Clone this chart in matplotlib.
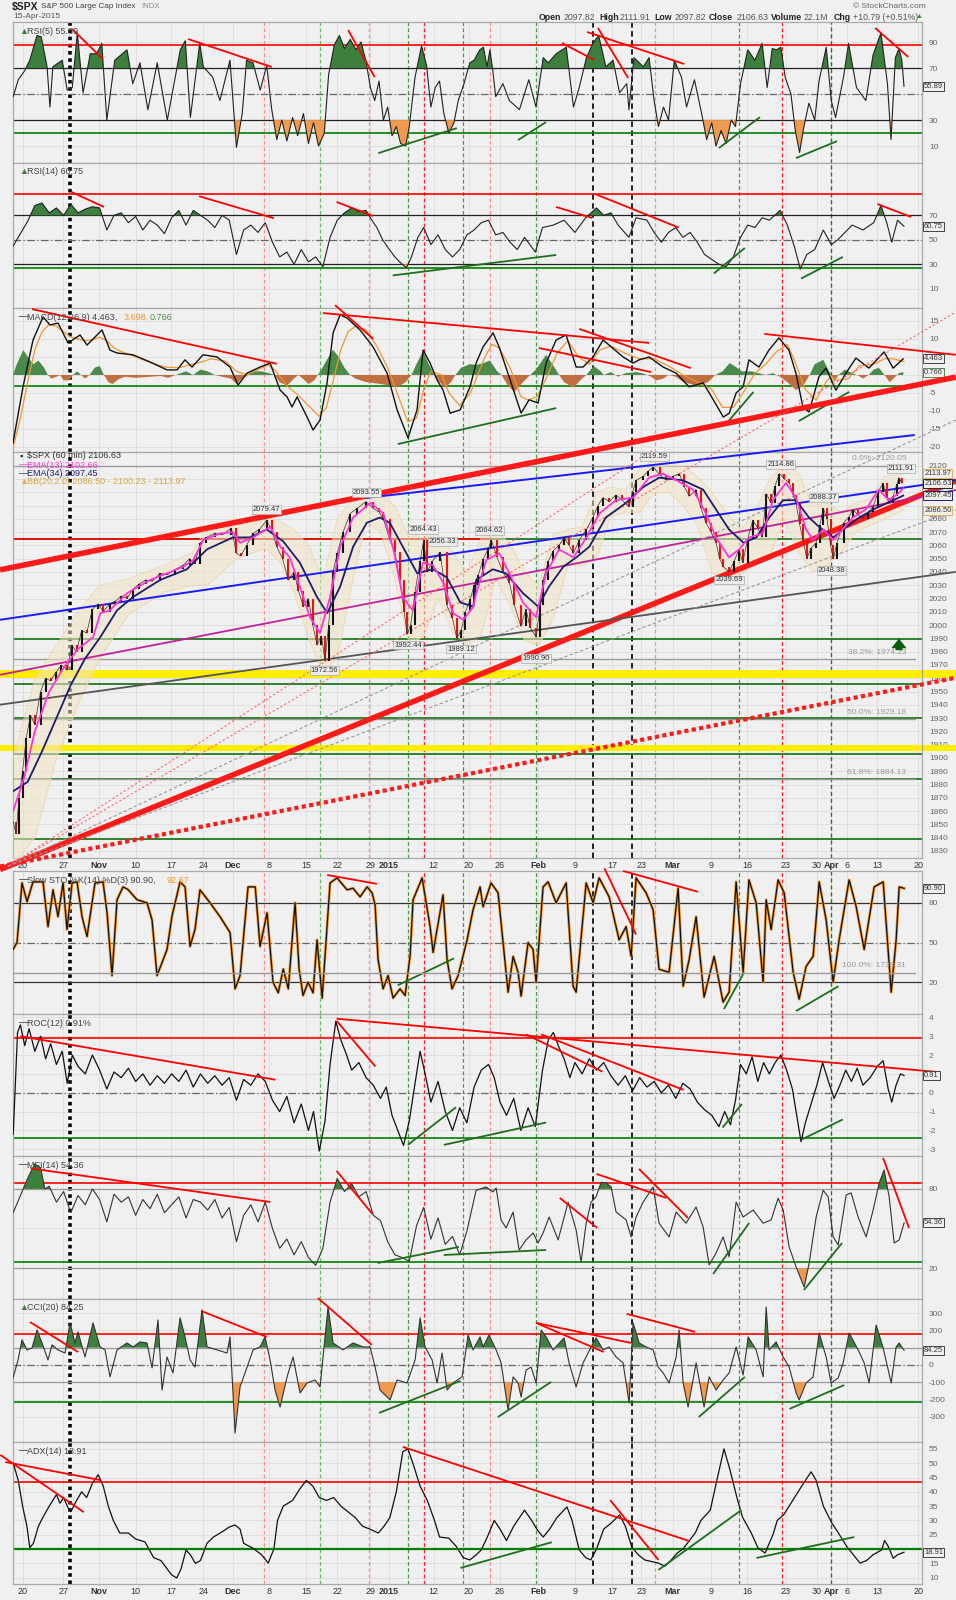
import numpy as np
import matplotlib
matplotlib.use("Agg")
import matplotlib.pyplot as plt

plt.rcParams['font.family'] = ['Liberation Sans', 'DejaVu Sans']

# ---------------------------------------------------------------
# x axis: trading-day position on the 60-min chart (0 ~ 20 Oct 2014)
tick_pos = [0.3, 5.96, 10.9, 16.0, 20.9, 25.4, 29.5, 34.5, 39.7, 44.0, 48.6, 51.2,
            57.4, 62.3, 66.6, 71.9, 77.0, 82.2, 86.2, 90.6, 95.9, 100.9, 106.3,
            110.6, 112.6, 114.8, 119.0, 124.7]
tick_lbl = ['20', '27', 'Nov', '10', '17', '24', 'Dec', '8', '15', '22', '29', '2015',
            '12', '20', '26', 'Feb', '9', '17', '23', 'Mar', '9', '16', '23', '30',
            'Apr', '6', '13', '20']
bold_lbl = {'Nov', 'Dec', '2015', 'Feb', 'Mar', 'Apr'}

# vertical marker lines drawn by the chartist
vline_pos = [6.9, 33.8, 41.6, 48.4, 53.8, 56.1, 61.5, 65.2, 71.6, 79.5, 84.9, 88.1,
             99.8, 105.8, 112.6]
vline_kind = ['dot', 'pink', 'lgreen', 'pink', 'green', 'red', 'green', 'pink',
              'green', 'black', 'black', 'pink', 'green', 'red', 'dgreen']

# ---------------------------------------------------------------
# price ($SPX 60 min)
price = [(-1.0, 1852), (-0.6, 1843), (-0.2, 1870), (0.3, 1890), (0.8, 1915), (1.4, 1932),
         (2.0, 1925), (2.8, 1950), (3.5, 1960), (4.2, 1958), (5.0, 1965), (5.7, 1970),
         (6.5, 1966), (7.1, 1985), (7.8, 1980), (8.5, 1996), (9.2, 1994), (10.0, 2012),
         (10.8, 2016), (11.5, 2010), (12.4, 2016), (13.2, 2018), (14.0, 2022), (14.8, 2020),
         (15.6, 2027), (16.5, 2031), (17.4, 2034), (18.3, 2033), (19.4, 2039), (20.4, 2038),
         (21.5, 2042), (22.6, 2045), (23.5, 2050), (24.2, 2046), (25.0, 2062), (25.8, 2066),
         (27.0, 2069), (28.0, 2068), (29.3, 2073), (30.0, 2054), (30.6, 2052), (31.4, 2060),
         (32.3, 2069), (33.2, 2072), (34.2, 2079), (35.0, 2070), (35.6, 2059), (36.4, 2050),
         (37.2, 2034), (38.0, 2040), (38.6, 2026), (39.3, 2014), (40.0, 2020), (40.6, 2000),
         (41.2, 1985), (41.8, 1992), (42.3, 1973), (42.8, 2000), (43.4, 2040), (44.0, 2054),
         (44.8, 2070), (45.8, 2084), (46.8, 2088), (48.0, 2093), (49.0, 2088), (49.8, 2085),
         (50.4, 2080), (51.3, 2064), (52.0, 2055), (52.7, 2034), (53.3, 2010), (53.7, 1993),
         (54.2, 2000), (54.8, 2025), (55.5, 2048), (56.0, 2064), (56.5, 2040), (57.2, 2048),
         (58.3, 2055), (59.2, 2015), (60.0, 2005), (60.6, 1990), (61.2, 1996), (61.8, 2010),
         (62.5, 2020), (63.0, 2030), (63.6, 2038), (64.3, 2050), (65.0, 2058), (65.4, 2064),
         (66.2, 2051), (67.0, 2040), (67.9, 2032), (68.6, 2015), (69.5, 1999), (70.2, 2012),
         (70.8, 1998), (71.6, 1991), (72.2, 2015), (72.6, 2034), (73.3, 2048), (74.0, 2056),
         (74.8, 2060), (75.5, 2066), (76.2, 2060), (76.8, 2054), (77.6, 2064), (78.6, 2072),
         (79.5, 2081), (80.2, 2090), (80.9, 2096), (81.8, 2093), (82.7, 2098), (83.6, 2094),
         (84.5, 2089), (85.0, 2100), (85.5, 2109), (86.5, 2112), (87.2, 2116), (87.9, 2119),
         (88.8, 2113), (89.7, 2109), (90.6, 2112), (91.5, 2114), (92.2, 2104), (92.9, 2097),
         (93.8, 2102), (94.5, 2088), (95.2, 2077), (95.9, 2070), (96.6, 2062), (97.1, 2050),
         (97.6, 2044), (98.4, 2040), (99.1, 2048), (99.8, 2057), (100.3, 2047), (101.0, 2065),
         (101.7, 2079), (102.4, 2073), (103.0, 2066), (103.6, 2099), (104.2, 2092), (104.8, 2105),
         (105.4, 2114), (106.1, 2110), (106.8, 2107), (107.3, 2098), (107.7, 2092), (108.2, 2076),
         (108.7, 2064), (109.2, 2050), (109.8, 2058), (110.5, 2062), (111.0, 2075), (111.5, 2088),
         (112.0, 2080), (112.5, 2060), (112.9, 2050), (113.4, 2062), (114.3, 2077), (115.0, 2081),
         (115.6, 2087), (116.3, 2083), (117.0, 2080), (117.7, 2085), (118.4, 2089), (119.1, 2100),
         (119.8, 2107), (120.3, 2096), (120.6, 2092), (121.2, 2097), (121.7, 2106), (122.0, 2111),
         (122.4, 2107)]

ema13 = [(-1, 1860), (0.5, 1885), (2, 1920), (4, 1950), (6, 1968), (8, 1982), (10.1, 1991),
         (11.1, 2009), (12.4, 2011), (14.8, 2024), (18, 2034), (20.4, 2039), (22.6, 2044),
         (24, 2049), (25.4, 2064), (27.7, 2069), (29.5, 2070), (30.5, 2062), (32.3, 2066),
         (34.7, 2074), (36.1, 2059), (37.4, 2051), (38.8, 2029), (40.2, 2006), (41.6, 1994),
         (43, 2021), (44.4, 2059), (46.2, 2081), (48.6, 2092), (50.4, 2084), (51.8, 2057),
         (53.1, 2021), (54.5, 2011), (55.9, 2047), (57.3, 2045), (58.7, 2032), (60.1, 2009),
         (61.5, 2004), (62.9, 2014), (63.3, 2024), (64.7, 2049), (66.5, 2054), (67.9, 2039),
         (69.8, 2017), (71.6, 2006), (73, 2039), (74.8, 2057), (76.8, 2051), (78.6, 2066),
         (80.4, 2084), (82.7, 2094), (85.1, 2096), (87.3, 2111), (89.2, 2114), (91.1, 2109),
         (93.4, 2102), (95.2, 2084), (96.6, 2066), (98.4, 2051), (99.8, 2057), (101.2, 2066),
         (103.1, 2069), (104.5, 2094), (106.3, 2107), (107.7, 2096), (109.1, 2072), (110.1, 2064),
         (111.5, 2072), (112.9, 2064), (113.7, 2069), (115.6, 2081), (117.4, 2087), (119.2, 2102),
         (120.6, 2094), (121.9, 2099), (122.6, 2103)]

ema34 = [(-1, 1875), (1, 1882), (3, 1905), (5, 1930), (7, 1955), (9, 1975), (11.1, 1991),
         (13.4, 2011), (15.6, 2021), (19.4, 2034), (23.1, 2042), (25.9, 2057), (29.5, 2066),
         (31.9, 2066), (34.2, 2072), (36.5, 2063), (38.8, 2047), (41.2, 2021), (42.6, 2009),
         (44.4, 2029), (46.2, 2059), (48.1, 2077), (49.9, 2081), (51.3, 2077), (53.1, 2059),
         (55.1, 2039), (57.3, 2042), (59.2, 2036), (61.1, 2017), (62.9, 2014), (63.3, 2034),
         (65.6, 2042), (67.4, 2039), (69.8, 2024), (71.9, 2014), (73.4, 2029), (75.4, 2044),
         (77.2, 2051), (79, 2059), (81.3, 2081), (84.1, 2092), (86.5, 2104), (88.7, 2111),
         (92, 2109), (94.8, 2102), (96.6, 2087), (98.4, 2072), (100.4, 2062), (102.2, 2066),
         (104.0, 2081), (105.9, 2094), (107.7, 2094), (109.5, 2081), (110.9, 2074), (112.9, 2066),
         (114.7, 2074), (116.5, 2081), (118.8, 2088), (121.2, 2094), (122.6, 2097.5)]

bb_t = [-1, 2, 5, 8, 11, 15, 20, 24, 26, 30, 34, 36, 38, 40, 42, 44, 46, 48, 50, 52, 54, 56,
        58, 60, 62, 64, 66, 68, 70, 72, 74, 76, 78, 80, 82, 84, 86, 88, 90, 92, 94, 96, 98,
        100, 102, 104, 106, 108, 110, 112, 114, 116, 118, 120, 122.6]
bb_upper = [1900, 1960, 1985, 2010, 2030, 2035, 2045, 2055, 2075, 2078, 2082, 2078, 2072, 2060,
            2035, 2080, 2095, 2100, 2098, 2090, 2065, 2070, 2068, 2055, 2040, 2066, 2070, 2062,
            2040, 2030, 2068, 2072, 2074, 2100, 2104, 2102, 2118, 2124, 2120, 2120, 2112, 2100,
            2085, 2072, 2085, 2110, 2120, 2115, 2090, 2092, 2085, 2092, 2095, 2112, 2114]
bb_lower = [1820, 1840, 1900, 1940, 1975, 2008, 2025, 2030, 2030, 2050, 2058, 2048, 2025, 1990,
            1965, 1975, 2030, 2078, 2070, 2035, 1985, 1992, 2020, 1995, 1985, 1992, 2035, 2015,
            1988, 1985, 2005, 2045, 2045, 2050, 2082, 2085, 2085, 2100, 2100, 2090, 2075, 2040,
            2030, 2038, 2045, 2050, 2080, 2055, 2040, 2045, 2055, 2070, 2075, 2080, 2086.5]

# ---------------------------------------------------------------
rsi5 = [(-1, 48), (-0.3, 61), (0.6, 68), (1.3, 76), (2.3, 95), (2.9, 94), (3.7, 71), (4.1, 40),
        (4.5, 71), (5.8, 76), (6.5, 53), (7.2, 55), (7.9, 97), (8.7, 51), (9.7, 81), (10.6, 81),
        (11.3, 89), (12.0, 30), (13.1, 76), (14.8, 84), (15.6, 58), (16.6, 74), (17.7, 38),
        (19.0, 74), (20.4, 30), (22.2, 84), (22.9, 91), (23.6, 32), (24.9, 89), (25.4, 71),
        (26.7, 63), (27.7, 45), (29.1, 76), (30.0, 9), (30.8, 35), (31.4, 76), (32.3, 74),
        (33.3, 53), (34.2, 72), (34.9, 38), (35.6, 15), (36.3, 30), (37.0, 14), (37.8, 32),
        (38.5, 18), (39.3, 35), (40.0, 12), (40.7, 28), (41.4, 10), (42.2, 20), (42.8, 65),
        (43.6, 88), (44.3, 95), (45.0, 85), (45.8, 92), (46.6, 84), (47.3, 90), (48.0, 75),
        (48.6, 55), (49.2, 45), (49.8, 60), (50.4, 30), (51.0, 40), (51.6, 18), (52.2, 25),
        (52.8, 12), (53.5, 10), (54.0, 25), (54.8, 63), (55.7, 87), (56.4, 72), (57.0, 40),
        (57.6, 55), (58.2, 60), (58.8, 35), (59.5, 20), (60.2, 28), (60.8, 45), (61.6, 58),
        (62.4, 74), (63.0, 76), (63.8, 84), (64.3, 86), (64.8, 71), (65.2, 84), (65.6, 68),
        (66.0, 48), (67.0, 58), (67.9, 45), (69.3, 38), (70.6, 61), (71.6, 40), (72.6, 78),
        (73.3, 74), (74.4, 81), (75.8, 86), (76.8, 40), (77.6, 55), (78.6, 78), (79.5, 89),
        (80.3, 95), (81.3, 71), (82.3, 76), (83.2, 51), (84.2, 58), (84.5, 38), (85.2, 78),
        (86.5, 71), (87.3, 78), (88.0, 45), (88.6, 25), (89.3, 40), (90.0, 30), (90.8, 76),
        (91.8, 63), (92.5, 40), (93.6, 61), (94.6, 35), (95.3, 15), (96.0, 28), (96.6, 10),
        (97.3, 22), (98.0, 12), (98.7, 30), (99.3, 25), (100.0, 58), (101.0, 84), (102.0, 76),
        (103.0, 89), (103.7, 55), (104.4, 85), (105.0, 84), (105.6, 86), (106.2, 63), (107.0, 50),
        (107.6, 22), (108.2, 5), (108.8, 25), (109.5, 43), (110.3, 30), (110.9, 60), (111.9, 86),
        (112.6, 45), (113.2, 32), (114.3, 63), (115.0, 89), (116.1, 55), (117.4, 45), (118.4, 80),
        (119.5, 97), (120.4, 58), (120.9, 15), (121.5, 78), (122.0, 85), (122.4, 76), (122.7, 56)]

rsi14 = [(-1, 45), (0, 55), (1, 65), (2, 78), (3, 80), (4, 72), (5, 76), (6, 70), (7, 79), (8, 72),
         (9, 75), (10, 77), (11, 76), (12, 58), (13, 70), (14, 72), (15, 64), (16, 69), (17, 58),
         (18, 66), (19, 62), (20, 55), (21, 68), (22, 74), (23, 62), (24, 74), (25, 70), (26, 66),
         (27, 60), (28, 70), (29, 66), (30, 38), (31, 58), (32, 62), (33, 56), (34, 64), (35, 48),
         (36, 36), (37, 40), (38, 30), (39, 42), (40, 32), (41, 36), (42, 28), (43, 52), (44, 66),
         (45, 72), (46, 76), (47, 73), (48, 74), (48.8, 66), (49.5, 60), (50.3, 50), (51, 44),
         (52, 36), (53, 30), (53.6, 27), (54.3, 36), (55.2, 52), (56, 60), (57, 46), (58, 54),
         (59, 42), (60, 36), (61, 42), (62, 54), (63, 58), (64, 64), (65, 66), (66, 54), (67, 56),
         (68, 48), (69, 42), (70, 52), (71.5, 40), (72.5, 60), (74, 62), (75.5, 66), (77, 56),
         (78.5, 68), (80, 76), (81, 70), (82, 72), (83, 62), (84.5, 52), (85.5, 68), (87, 66),
         (88, 56), (89, 48), (90, 56), (91, 60), (92, 52), (93, 56), (94, 48), (95, 38), (96, 34),
         (97, 30), (98, 28), (99, 36), (100, 52), (101, 62), (102, 60), (103, 68), (104, 66),
         (105.5, 74), (106.5, 62), (107.5, 44), (108.3, 26), (109.2, 38), (110.3, 42), (111.5, 58),
         (112.6, 46), (113.5, 50), (114.5, 56), (115.5, 62), (117, 58), (118.5, 64), (119.5, 78),
         (120.3, 64), (121, 48), (121.8, 66), (122.7, 61)]

macd = [(-1.03, -18.9), (0.36, -3.3), (1.75, 9.7), (3.14, 16.1), (4.11, 13.9), (5.22, 14.4),
        (6.61, 8.9), (8.28, 11.1), (9.25, 8.3), (11.33, 12.5), (12.44, 6.9), (13.42, 6.1),
        (15.64, 5.6), (18.0, 3.6), (20.36, 1.4), (21.75, 1.4), (22.86, 4.2), (23.83, 2.2),
        (25.36, 5.6), (27.31, 5.0), (29.11, 2.2), (30.22, -2.8), (31.47, 0.5), (33.28, 2.2),
        (34.67, 3.3), (36.06, -4.2), (37.03, -6.1), (37.72, -8.9), (38.42, -6.1), (39.81, -11.7),
        (40.64, -15.3), (41.61, -12.5), (42.58, -2.2), (43.42, 11.7), (44.39, 16.7), (45.36, 15.8),
        (47.17, 12.5), (48.97, 7.8), (50.92, 0.5), (52.31, -9.7), (53.83, -17.5), (55.08, -9.7),
        (55.92, 6.9), (56.89, 3.3), (57.86, -1.4), (58.69, -4.2), (59.67, -10.6), (61.06, -9.7),
        (62.44, -3.3), (63.28, 3.3), (64.25, 7.8), (65.64, 11.7), (66.47, 7.8), (67.86, -0.5),
        (69.53, -10.6), (70.64, -6.9), (71.89, -7.8), (73.0, 3.3), (74.39, 9.7), (75.78, 11.1),
        (77.17, 2.2), (78.14, 2.2), (79.5, 5.0), (80.92, 9.7), (81.75, 8.3), (83.69, 5.0),
        (85.08, 3.3), (85.92, 4.2), (87.31, 5.0), (89.25, 2.2), (91.06, 0.5), (92.86, -3.3),
        (94.81, -2.2), (96.22, -6.9), (97.61, -11.7), (98.44, -10.6), (99.39, -5.0), (100.36, -3.3),
        (101.17, 4.2), (102.56, 2.2), (103.94, 6.9), (105.33, 10.3), (106.72, 6.9), (107.69, 0.5),
        (108.67, -8.9), (109.5, -10.3), (110.89, -0.5), (111.86, 1.9), (113.25, -4.2), (114.64, 0.5),
        (116.03, 4.7), (117.83, 1.9), (119.94, 6.4), (121.19, 1.9), (122.58, 4.46)]

macd_signal = [(-1, -20), (0, -12), (1, -2), (2, 7), (3, 12), (4, 14), (5, 13.5), (6, 12),
               (7, 10.5), (8, 10), (9, 9.5), (10, 9.8), (11, 10.5), (12, 9.5), (13, 7.5),
               (14, 6.5), (16, 5), (18, 3.5), (20, 2.2), (22, 2), (23.5, 2.8), (25, 3.5),
               (26.5, 4.5), (28.5, 3.8), (30, 1), (31.5, 0), (33, 1.5), (34.5, 2.8), (35.5, 1),
               (37, -3), (38.5, -5.5), (40, -8.5), (41.5, -11.5), (42.5, -9), (43.5, -1), (44.5, 7),
               (45.5, 12), (46.5, 13.5), (48, 12.5), (49.5, 8), (51, 2), (52.5, -6), (53.8, -13),
               (55, -12), (56, -4), (57, 1), (58.5, 0), (59.5, -5), (61, -8.5), (62.5, -5),
               (63.5, 0), (64.5, 5), (65.5, 8.5), (66.5, 7.5), (68, 2), (69.5, -6), (70.5, -7),
               (71.8, -6), (73, -1), (74.5, 6), (76, 9.5), (77.5, 5), (79, 3), (80.5, 7), (82, 8),
               (84, 6), (86, 4.5), (88, 4.5), (90, 2.5), (92, 0), (94, -2), (96, -4), (97.5, -9),
               (99, -9), (100.5, -4.5), (102, 0.5), (103.5, 3), (105, 6.5), (106.5, 8.5),
               (107.5, 4), (109, -4), (110.5, -7), (111.5, -3), (112.5, -0.5), (113.5, -1.5),
               (115, -1), (116.5, 2.5), (118.5, 3), (120, 4.5), (121.2, 4.5), (122.7, 3.7)]

macd_hist = [(-1.03, 0), (-0.5, 3), (0.4, 6.9), (1.2, 4.5), (1.8, 3), (2.5, 4), (3.3, 2), (3.8, 0),
             (4.3, -1), (5.0, -0.5), (5.5, 0), (6.0, -1.5), (6.8, -1.5), (7.3, 0), (7.9, 1),
             (8.4, 0), (9.0, -1), (9.6, 0), (10.3, 2), (11.0, 2.5), (11.6, 0), (12.2, -2),
             (12.8, -2.5), (13.6, -1.2), (14.5, -0.5), (16, -0.8), (18, -0.5), (19.5, -0.3),
             (20.5, -0.8), (22, 0.3), (23, 1), (24, 0), (25, 1.5), (26, 1), (27, 0), (28, -0.5),
             (29.2, -1), (30, -2.5), (30.8, -1), (31.5, 0), (32.2, 1), (33.5, 1), (34.5, 0.5),
             (35.3, 0), (36, -2), (37, -3), (38, -1), (38.6, 0), (39.2, -1), (40, -2.5),
             (40.8, -1.5), (41.3, 0), (41.8, 1.5), (42.5, 4), (43.4, 7), (44.2, 5), (45, 2),
             (45.8, 0), (46.5, -1), (48, -2), (50, -2.5), (51.5, -3), (52.5, -3.2), (53.5, -2),
             (54.3, 0), (55, 3), (55.9, 6.6), (56.7, 3), (57.5, 0), (58.2, -2), (59, -3.5),
             (59.8, -2), (60.4, 0), (61.2, 2), (62.4, 3), (63.3, 2.8), (64.3, 3.3), (65.2, 4),
             (66.2, 1), (66.8, 0), (67.7, -3), (68.6, -4.7), (69.8, -2), (70.8, 0), (71.6, 1.5),
             (73, 5.6), (74.2, 2), (74.8, 0), (75.5, -2), (76.8, -3.5), (78, -1), (78.6, 0),
             (79.6, 2.5), (80.6, 1), (81, 0), (82, 0.8), (83, -0.5), (84, 0.5), (85.5, 0.8),
             (86.5, 0.4), (87.5, -0.4), (88.3, -1.5), (89.3, -1), (90, 0), (91, -0.5), (92.1, -2),
             (94, -3), (95.5, -2), (96.5, 0), (97.5, 1), (98.5, 3.3), (99.5, 2), (100.2, 1),
             (101.5, 1), (102.5, 0.5), (103.5, 0), (104.5, 0.5), (105.5, -0.5), (106.5, -2),
             (107.7, -4.2), (108.7, -3), (109.6, 0), (110.3, 3), (111.5, 4.2), (112.3, 1),
             (112.6, 0), (113, -2), (113.6, 0), (114.5, 1.5), (115.5, 0.5), (116.2, 0), (117, -1),
             (117.8, 0), (118.5, 1.5), (119.2, 2), (120, 0), (120.7, -2), (121.5, -0.5),
             (122, 0.5), (122.6, 0.8)]

sto = [(-1.03, 44.7), (-0.47, 50), (0.22, 95), (0.92, 80.8), (1.75, 95.8), (3.14, 95.8),
       (3.83, 62), (4.53, 89.8), (5.22, 69.5), (5.92, 95), (6.47, 59.8), (7.17, 95), (7.86, 95.8),
       (8.56, 69.5), (9.25, 54.5), (10.36, 95), (11.47, 95.8), (12.03, 72.5), (12.72, 25),
       (13.42, 82.3), (14.25, 92), (14.94, 90), (16.19, 82.3), (17.58, 80), (18.28, 67),
       (18.97, 25), (19.67, 35), (20.36, 44.7), (21.05, 70), (22.17, 95.8), (22.86, 92),
       (23.56, 47), (24.25, 60), (24.94, 89.8), (26.33, 80), (27.72, 69.5), (29.11, 57.5),
       (29.81, 15), (30.5, 25), (31.61, 92), (32.61, 92), (33.28, 47), (34.25, 72.5), (35.08, 20),
       (35.8, 12), (36.5, 30), (37.2, 15), (38.14, 80), (38.7, 30), (39.25, 10), (39.94, 20),
       (40.64, 12), (41.19, 52), (41.9, 8), (43.0, 95), (43.97, 98.8), (45.36, 89.8), (46.19, 91),
       (47.17, 84.5), (48.14, 92), (48.83, 87.5), (49.25, 78.5), (49.67, 37), (50.36, 15),
       (51.06, 25), (51.75, 8), (52.72, 15), (53.42, 10), (54.11, 40), (54.53, 82.3),
       (55.78, 98.8), (56.89, 62), (57.31, 42.5), (58.69, 86), (59.25, 37), (59.94, 15),
       (60.78, 25), (62.03, 52), (62.86, 74.8), (63.83, 92), (64.25, 77), (65.36, 95),
       (66.33, 87.5), (67.03, 50), (67.72, 12.5), (68.42, 39.5), (69.11, 27.5), (69.53, 9.5),
       (70.5, 50), (71.19, 44.7), (71.61, 20), (72.58, 92), (73.28, 95.8), (74.39, 80),
       (75.78, 95), (76.75, 17), (77.17, 12.5), (78.56, 95), (79.53, 80), (80.36, 98.8),
       (81.75, 84.5), (83.14, 52), (84.11, 62), (84.81, 39.5), (85.5, 98.8), (86.89, 87.5),
       (87.86, 74.8), (88.69, 29.8), (90.08, 27.5), (91.33, 91), (92.03, 17), (92.86, 37),
       (93.83, 69.5), (94.94, 8.8), (96.33, 39.5), (97.58, 5), (98.42, 12.5), (99.39, 95.8),
       (100.36, 27.5), (101.17, 97.3), (102.17, 80), (103.14, 20), (103.56, 82.3), (104.25, 59.8),
       (105.22, 97.3), (106.06, 87.5), (107.31, 27.5), (108.14, 7.2), (109.11, 32), (110.08, 39.5),
       (110.92, 95.8), (111.89, 67), (112.86, 20), (113.69, 52), (115.08, 97.3), (116.06, 77),
       (117.17, 44.7), (118.56, 92), (119.81, 95.8), (120.92, 12.5), (121.61, 52), (122.03, 92),
       (122.72, 90.9)]

roc = [(-1.0, -2.2), (-0.7, 0.5), (-0.4, 3.2), (0, 3.6), (0.6, 2.5), (1.2, 3.4), (2, 2.2),
       (2.8, 3.0), (3.5, 1.8), (4.2, 2.6), (5, 1.5), (5.8, 2.2), (6.5, 0.5), (7.2, 2.0), (8, 1.4),
       (9, 1.0), (10, 2.0), (11, 1.2), (12, 0.2), (13, 1.1), (14, 0.8), (15, 1.3), (16, 0.6),
       (17, 1.0), (18, 0.4), (19, 0.9), (20, 0.5), (21, 1.0), (22, 0.6), (23, 1.2), (24, 0.3),
       (25, 1.0), (26, 0.5), (27, 0.9), (28, 0.4), (29, 0.8), (30, -0.4), (31, 0.7), (32, 0.4),
       (33, 1.0), (34, 0.6), (35, -0.4), (36, -1.0), (37, -0.2), (38, -1.6), (39, -0.6),
       (40, -2.0), (40.7, -1.0), (41.5, -3.1), (42.3, -1.5), (43, 1.5), (43.8, 3.8), (44.5, 2.8),
       (45.3, 2.0), (46, 1.2), (47, 1.6), (48, 0.8), (49, 0.4), (50, -0.3), (50.8, 0.3),
       (51.6, -1.2), (52.4, -2.0), (53.2, -2.8), (54, -1.5), (54.8, 0.5), (55.5, 2.2), (56.2, 1.0),
       (57, -0.5), (58, 0.6), (59, -1.0), (60, -2.0), (61, -0.8), (62, -1.6), (63, 0.3), (64, 1.2),
       (65, 1.5), (65.8, 0.8), (66.6, -0.5), (67.5, -1.2), (68.5, -0.3), (69.5, -2.0),
       (70.5, -0.8), (71.5, -1.8), (72.5, 1.2), (73.3, 2.8), (74, 3.2), (74.8, 2.4), (75.5, 1.8),
       (76.3, 0.8), (77, 1.6), (78, 1.0), (79, 1.8), (80, 1.2), (81, 1.6), (82, 0.9), (83, 0.4),
       (84, 0.9), (85, 0.1), (86, 0.8), (87, 0.3), (88, 0.6), (89, 0.0), (90, 0.4), (91, -0.3),
       (92, 0.5), (93, 0.2), (94, -0.5), (95, -0.9), (96, -1.2), (97, -1.8), (97.8, -1.0),
       (98.6, -1.7), (99.3, -0.4), (100, 1.5), (100.8, 1.0), (101.6, 1.9), (102.4, 0.6),
       (103.2, 1.6), (104, 1.0), (104.8, 1.6), (105.6, 2.0), (106.4, 1.2), (107.2, 0.2),
       (107.8, -1.2), (108.4, -2.6), (109, -1.6), (109.8, -0.6), (110.6, 0.4), (111.4, 1.6),
       (112.2, 0.6), (113, -0.3), (113.8, 0.4), (114.6, 1.2), (115.4, 0.6), (116.2, 1.3),
       (117, 0.4), (118, 0.8), (119, 1.4), (119.8, 1.7), (120.5, 0.2), (121, -0.5), (121.6, 0.4),
       (122.2, 1.0), (122.7, 0.91)]

mfi = [(-1, 62), (0, 75), (1, 88), (2, 99), (2.8, 96), (3.4, 80), (4, 82), (5, 70), (6, 78),
       (7, 62), (8, 75), (9, 68), (10, 80), (11, 72), (12, 55), (13, 76), (14, 70), (15, 74),
       (16, 60), (17, 72), (18, 65), (19, 76), (20, 62), (21, 68), (22, 74), (23, 58), (24, 72),
       (25, 70), (26, 64), (27, 72), (28, 58), (29, 66), (30, 40), (31, 60), (32, 68), (33, 55),
       (34, 70), (35, 50), (36, 35), (37, 42), (38, 30), (39, 40), (40, 28), (41, 22), (42, 35),
       (43, 70), (44, 88), (45, 78), (46, 84), (47, 74), (48, 78), (49, 60), (50, 56), (51, 40),
       (52, 30), (53, 28), (54, 25), (55, 52), (56, 66), (57, 42), (58, 58), (59, 38), (60, 44),
       (61, 30), (62, 48), (63.28, 79), (64.67, 81.5), (65.64, 77.7), (66.06, 80.8), (66.75, 56.5),
       (67.44, 50.4), (68.42, 62.5), (69.25, 33.7), (70.22, 41.3), (71.19, 46.6), (71.89, 39),
       (72.58, 46.6), (73.42, 58.7), (74.67, 41.3), (76.06, 70), (77.17, 48.9), (77.86, 24.6),
       (78.56, 54), (79.25, 70), (79.94, 74), (80.64, 85), (81.33, 84.5), (82.03, 81.5),
       (82.72, 62.5), (84.11, 56.5), (84.81, 43.6), (85.5, 58.7), (86.47, 70), (87.86, 81.5),
       (88.69, 54), (90.08, 43.6), (91.06, 62.5), (92.44, 54), (93.83, 66.3), (94.81, 51.1),
       (95.64, 22.3), (96.61, 31.4), (97.58, 43.6), (98.42, 28.4), (99.39, 70), (100.36, 58.7),
       (101.75, 64), (103.14, 54), (104.25, 56.5), (105.22, 73), (105.92, 64), (106.75, 36),
       (107.72, 20.8), (108.83, 5.6), (109.53, 23.8), (110.5, 58.7), (111.47, 79), (112.17, 74),
       (112.86, 43.6), (113.56, 37.5), (114.67, 75.4), (115.36, 77), (116.33, 58.7),
       (117.44, 43.6), (118.42, 64), (119.25, 84.5), (119.94, 94.4), (120.64, 74), (121.33, 39),
       (122.03, 41.3), (122.72, 54.4)]

cci = [(-1.03, -75), (-0.33, 29), (0.22, 145), (0.92, 87), (1.61, 98), (2.31, 202), (3.0, 127),
       (3.83, 29), (4.39, 116), (5.22, 87), (6.19, 69), (6.89, 243), (7.58, 127), (8.0, 191),
       (8.97, 46), (10.08, 243), (11.06, 104), (11.75, 87), (12.44, -69), (13.42, 87),
       (14.8, 127), (15.64, 104), (16.61, 133), (17.58, 127), (18.28, -17), (19.11, 260),
       (19.67, -145), (20.36, 46), (21.19, -46), (22.17, 272), (22.86, 162), (23.56, 29),
       (24.25, -12), (25.22, 318), (25.92, 104), (27.31, 87), (28.69, 69), (29.11, 162),
       (29.81, -393), (30.5, -127), (31.47, -12), (32.31, 87), (33.28, 104), (33.97, 162),
       (34.67, 29), (35.36, -145), (36.06, -243), (37.03, -69), (37.86, 46), (38.83, -162),
       (39.81, -104), (40.92, -87), (41.61, -127), (42.72, 335), (43.42, 127), (44.81, 87),
       (46.19, 127), (47.58, 104), (48.56, 104), (49.25, -12), (49.94, -145), (51.33, -202),
       (52.31, -87), (53.69, -104), (54.81, 29), (55.5, 272), (56.19, 104), (57.17, 29),
       (57.86, -104), (58.56, 69), (59.25, -145), (60.08, -104), (61.33, -69), (62.17, 173),
       (62.86, 87), (63.83, 162), (64.25, 104), (65.08, 173), (66.06, 87), (66.75, 12),
       (67.72, -260), (68.42, -69), (69.11, -104), (69.53, -185), (70.22, -29), (70.92, -12),
       (71.61, -104), (72.31, 202), (73.0, 162), (73.97, 87), (75.5, 156), (76.19, 12),
       (77.17, -127), (78.14, 12), (79.25, 104), (79.94, 156), (80.92, 87), (81.75, 104),
       (82.72, 46), (83.69, 12), (84.53, -220), (85.08, 243), (85.92, 127), (86.89, 104),
       (87.86, 87), (88.56, -12), (89.25, -46), (90.08, -104), (91.06, 46), (91.47, 202),
       (92.03, -104), (92.72, -243), (93.83, 12), (94.94, -243), (95.64, -69), (96.61, -145),
       (97.58, -87), (98.42, -46), (99.39, 104), (100.36, -58), (101.06, 162), (102.17, 87),
       (103.14, -69), (103.56, 335), (103.97, 87), (104.94, 133), (105.92, 46), (106.75, -12),
       (107.72, -162), (108.14, -202), (109.11, -104), (110.08, -69), (110.92, 185), (111.89, 46),
       (112.58, -104), (113.56, -75), (114.25, 12), (115.08, 185), (116.33, 87), (117.17, 12),
       (117.86, -104), (118.83, 231), (119.81, 98), (120.92, -104), (121.61, 104), (122.03, 127),
       (122.72, 84)]

adx = [(-1, 50), (-0.3, 44), (0.3, 35), (0.9, 28), (1.3, 20.5), (1.8, 22), (2.5, 28), (3.1, 31),
       (4, 35), (5, 39), (5.5, 36), (6, 38), (6.5, 35), (7, 33), (7.8, 37), (8.5, 40), (9.2, 38),
       (10, 43), (10.8, 46), (11.5, 42), (12.2, 35), (12.9, 30), (13.8, 25.6), (15, 25.6),
       (16, 23.5), (17.3, 22.5), (18.5, 17), (19.5, 16), (20.4, 13), (21, 11), (21.7, 9.9),
       (22.3, 13), (23, 19.7), (23.6, 18), (24.3, 15), (25, 16), (25.9, 22), (26.8, 24.2),
       (28, 26), (29, 27.7), (29.8, 28.4), (30.5, 27), (31, 22), (32.3, 20.3), (33.5, 18),
       (34.4, 15.1), (35.2, 20), (35.7, 30), (36.5, 35), (37.8, 37), (38.8, 41), (39.7, 44),
       (40.6, 42), (41.5, 38), (42.5, 37), (43.5, 38), (44.5, 35), (45.5, 33), (46.5, 31),
       (47.5, 28), (48.5, 27), (49.7, 25.6), (50.5, 28), (51.3, 31), (52.2, 40), (53.1, 54),
       (53.8, 55), (54.5, 50), (55.5, 42), (56.5, 37), (57.5, 30), (58.2, 24.2), (59.5, 23.8),
       (60.5, 21), (61.5, 17), (62.4, 16.2), (63.3, 18), (64, 19.7), (64.8, 24), (65.8, 30),
       (66.6, 27), (67.5, 23), (68.5, 28), (70, 33.6), (71, 30), (71.8, 26.6), (72.6, 24.2),
       (73.5, 27), (74.5, 31), (75.9, 34.7), (76.6, 30), (77.6, 19.7), (78.5, 17), (79.2, 16.2),
       (80, 20), (81, 27), (82, 29), (83.2, 31.9), (84, 28), (84.9, 20.7), (85.8, 18),
       (86.7, 16.2), (88.6, 15.1), (89.5, 14), (90.3, 16), (91.2, 18.6), (92, 20), (93.7, 25.6),
       (94.5, 30), (95.8, 33.6), (96.8, 45), (97.7, 55), (98.5, 48), (99.6, 37), (100.3, 31),
       (101.5, 25.6), (102.4, 20.5), (103.4, 18.6), (104.5, 25), (105.1, 30), (106, 32),
       (107, 36), (108.5, 42), (109.8, 47), (110.5, 44), (111.5, 35), (112.7, 29), (113.5, 26),
       (114.8, 20.7), (116, 17), (116.6, 15.1), (117.5, 16), (118.4, 18), (119.6, 19.7),
       (120, 23), (120.5, 21), (121.2, 16.8), (121.8, 18), (122.7, 18.9)]

# ---------------------------------------------------------------
# chartist trend lines, (position, value) end points
rsi5_red = [[(7.17, 100), (11.47, 76.9)], [(23.3, 92.3), (34.9, 70.8)], [(45.5, 99.2), (49.2, 63.1)],
            [(75.2, 89.2), (79.7, 76.2)], [(78.7, 97.7), (92.2, 73.1)], [(80.2, 100.8), (84.4, 62.3)],
            [(118.7, 100.8), (123.3, 78.5)]]
rsi5_green = [[(49.7, 4.6), (60.6, 23.8)], [(69.1, 14.6), (73, 28.5)], [(97, 8.5), (102.7, 32.3)],
              [(107.7, 0.8), (113.4, 13.8)]]
rsi14_red = [[(7.1, 89), (11.6, 76.8)], [(24.8, 85.6), (35.2, 67.6)], [(43.9, 80.9), (49, 69.4)],
             [(74.4, 76.8), (79.4, 67.8)], [(79.8, 87.4), (91.4, 60)], [(119, 79.2), (123.7, 68.6)]]
rsi14_green = [[(51.7, 20.9), (74.4, 37.6)], [(96.3, 22.5), (100.6, 43.3)], [(108.4, 18.3), (114.2, 36)]]
macd_red = [[(1.6, 18.3), (35.6, 3.1)], [(42, 17.2), (87.3, 8.9)], [(43.7, 19.4), (49, 10)],
            [(72, 7.5), (87.6, 0.8)], [(77.6, 12.8), (93.1, 1.9)], [(103.3, 11.4), (129.9, 5.6)]]
macd_green = [[(52.4, -19.2), (74.4, -9.2)], [(98, -13.6), (101.8, -4.7)], [(108.1, -12.8), (115.1, -4.7)]]
sto_red = [[(42.6, 101), (49.5, 94.3)], [(81.1, 106), (85.5, 56)], [(83.7, 104), (94.1, 88.3)]]
sto_green = [[(52.4, 17.7), (60.2, 38)], [(97.7, -0.3), (100.5, 27.5)], [(107.7, -1.8), (113.6, 17)]]
roc_red = [[(0, 3.0), (35.4, 0.69)], [(43.9, 3.93), (127.7, 1.09)], [(43.9, 3.82), (49.3, 1.39)],
           [(70.2, 3.1), (80.8, 1.12)], [(72.3, 3.1), (92.1, 0.15)]]
roc_green = [[(53.8, -2.77), (60.5, -0.77)], [(58.8, -2.77), (73, -1.58)], [(97.5, -1.85), (100.2, -0.6)],
             [(108.4, -2.5), (114.2, -1.42)]]
mfi_red = [[(1.4, 95.6), (34.7, 70.1)], [(43.9, 93.7), (48.9, 61)], [(80, 91.4), (89.7, 73.2)],
           [(85.9, 95.2), (92.7, 58)], [(74.9, 73.2), (80.1, 50.4)], [(119.8, 103.5), (123.4, 50.4)]]
mfi_green = [[(49.6, 23.8), (60.9, 36)], [(58.8, 29.9), (73, 33.7)], [(96.2, 15.5), (101.2, 54.2)],
             [(108.8, 3.3), (114.1, 39)]]
cci_red = [[(1.33, 248), (8, 75)], [(25.1, 312), (34.2, 162)], [(41.3, 387), (48.8, 116)],
           [(71.6, 243), (84.8, 127)], [(71.6, 243), (81, 75)], [(84.2, 295), (93.7, 191)]]
cci_green = [[(49.8, -277), (61.1, -92)], [(66.3, -301), (73.7, -98)], [(94.2, -301), (100.6, -69)],
             [(106.8, -254), (114.4, -116)]]
adx_red = [[(-2.8, 52.9), (8.8, 32.9)], [(-2.1, 50.4), (11.1, 44.1)], [(53.1, 55.7), (92.9, 22.8)],
           [(81.9, 37.1), (88.6, 16.2)]]
adx_green = [[(61.1, 13.4), (73.8, 22.4)], [(88.6, 12.7), (100.1, 33.6)], [(102.2, 16.9), (115.8, 24.2)]]

# price panel channel lines (end points beyond the plot edges)
price_lines = [
    ((-2.83, 2041.6), (129.9, 2186.7), '#ff1a1a', 4.0, '-'),
    ((-2.83, 1816.0), (129.9, 2108.5), '#ff1a1a', 4.0, '-'),
    ((-2.83, 1818.3), (129.9, 1960.4), '#ff1a1a', 3.0, (0, (1, 0.8))),
    ((47.9, 2095.7), (124.2, 2143.1), '#1a1aff', 1.4, '-'),
    ((-2.83, 2004.0), (129.9, 2109.2), '#1a1aff', 1.4, '-'),
    ((-2.83, 1962.6), (129.9, 2101.7), '#c0209a', 1.3, '-'),
    ((-2.83, 1940.1), (129.9, 2040.1), '#555555', 1.3, '-'),
    ((-1.72, 1818.5), (87.9, 2131.8), '#ff6666', 0.8, (0, (2, 2))),
    ((-1.72, 1818.5), (129.9, 2235.6), '#ff6666', 0.8, (0, (2, 2))),
    ((-1.72, 1818.5), (129.9, 2154.4), '#999999', 0.8, (0, (3, 2))),
    ((-1.72, 1818.5), (129.9, 2086.7), '#999999', 0.8, (0, (3, 2))),
]
green_levels = [2064.5, 1989.5, 1956, 1930.3, 1903.2, 1884.4, 1839.3]
yellow_bands = [(1960.5, 1966), (1905.5, 1909.5)]
fib_levels = [2120.05, 1974.23, 1929.18, 1884.13, 1738.31]
fib_text = ['0.0%: 2120.05', '38.2%: 1974.23', '50.0%: 1929.18', '61.8%: 1884.13', '100.0%: 1738.31']
peak_labels = [(34.2, 2087, '2079.47'), (48.1, 2100, '2093.55'), (55.9, 2072, '2064.43'),
               (58.6, 2063, '2056.33'), (65.1, 2071, '2064.62'), (42.2, 1966, '1972.56'),
               (53.8, 1985, '1992.44'), (61.2, 1982, '1989.12'), (71.6, 1975, '1990.90'),
               (88.0, 2127, '2119.59'), (105.6, 2121, '2114.86'), (111.5, 2096, '2088.37'),
               (98.4, 2034, '2039.69'), (112.6, 2041, '2048.38'), (122.3, 2118, '2111.91')]

# ---------------------------------------------------------------
BG = '#f0f0f0'
XLIM = (-1.03, 125.2)
W_PX, H_PX = 956, 1600
AX_L, AX_R = 13, 922

fig = plt.figure(figsize=(9.56, 16), dpi=100, facecolor=BG)


def panel(top, bottom, z=1):
    return fig.add_axes([AX_L / W_PX, 1 - bottom / H_PX, (AX_R - AX_L) / W_PX, (bottom - top) / H_PX],
                        zorder=z)


def style(ax, ylim, yticks, hidden=()):
    ax.set_facecolor(BG)
    ax.set_xlim(XLIM)
    ax.set_ylim(ylim)
    ax.set_xticks(tick_pos)
    ax.set_xticklabels([])
    ax.set_yticks(yticks)
    ax.set_yticklabels(['' if v in hidden else '{:g}'.format(v) for v in yticks])
    ax.yaxis.tick_right()
    ax.tick_params(axis='y', length=0, labelsize=6, labelcolor='#666666', pad=5)
    ax.tick_params(axis='x', length=0)
    ax.grid(True, color='#dcdcdc', lw=0.6, zorder=0)
    ax.set_axisbelow(True)
    for s in ax.spines.values():
        s.set_color('#a9a9a9')
        s.set_linewidth(0.9)


VSTYLE = {'pink': ('#ff8c8c', (0, (3, 2)), 0.9), 'red': ('#ff2020', (0, (3, 2)), 0.9),
          'lgreen': ('#5cbf5c', (0, (3, 2)), 0.9), 'green': ('#3aa03a', (0, (3, 2)), 0.9),
          'dgreen': ('#1f7a1f', (0, (3, 2)), 1.0), 'black': ('#111111', (0, (3, 2)), 1.3)}


def vmarks(ax):
    for x, k in zip(vline_pos, vline_kind):
        if k == 'dot':
            ax.axvline(x, color='white', lw=2.6, zorder=1)
            ax.axvline(x, color='black', lw=2.6, ls=(0, (1, 1)), zorder=1)
        else:
            c, ls, lw = VSTYLE[k]
            ax.axvline(x, color=c, ls=ls, lw=lw, zorder=1)


def hline(ax, y, color, lw=1.0, ls='-'):
    ax.axhline(y, color=color, lw=lw, ls=ls, zorder=2)


def trends(ax, segs, color, lw=1.3):
    for (x0, y0), (x1, y1) in segs:
        ax.plot([x0, x1], [y0, y1], color=color, lw=lw, zorder=7, clip_on=False,
                solid_capstyle='butt')


def vbox(ax, y, s, ec='#444444', color='#333333'):
    ax.annotate(s, xy=(1, y), xycoords=('axes fraction', 'data'), xytext=(1.5, 0),
                textcoords='offset points', ha='left', va='center', fontsize=5.5, color=color,
                bbox=dict(boxstyle='square,pad=0.12', fc=BG, ec=ec, lw=0.7),
                annotation_clip=False, zorder=9)


def legend(ax, pieces, y_px=9):
    h = ax.get_position().height * H_PX
    for x_px, s, c in pieces:
        ax.text((x_px - AX_L) / (AX_R - AX_L), 1 - y_px / h, s, transform=ax.transAxes,
                fontsize=6.5, color=c, va='center', ha='left', zorder=9)


def arr(pairs):
    a = np.array(pairs, dtype=float)
    return a[:, 0], a[:, 1]


DASHDOT = (0, (6, 2, 1, 2))
RED, GREEN = '#ff0000', '#008000'
FILL_G, FILL_O = '#3d7f3d', '#f09a50'

# ---------------- RSI(5) ----------------
ax = panel(22, 163)
style(ax, (-3, 105.4), [10, 30, 50, 70, 90], hidden=(50,))
vmarks(ax)
hline(ax, 87.7, RED, 1.2)
hline(ax, 70, '#222222', 0.9)
hline(ax, 50, '#666666', 0.9, DASHDOT)
hline(ax, 30, '#222222', 0.9)
hline(ax, 20, GREEN, 1.2)
t, v = arr(rsi5)
ax.fill_between(t, v, 70, where=v > 70, interpolate=True, color=FILL_G, lw=0, zorder=3)
ax.fill_between(t, v, 30, where=v < 30, interpolate=True, color=FILL_O, lw=0, zorder=3)
ax.plot(t, v, color='#222222', lw=0.8, zorder=4)
trends(ax, rsi5_red, RED)
trends(ax, rsi5_green, '#1d6e1d')
legend(ax, [(19, '\u25b2', '#3d7f3d'), (27, 'RSI(5) 55.89', '#444444')])
vbox(ax, 55.89, '55.89')

# ---------------- RSI(14) ----------------
ax = panel(163, 308)
style(ax, (-5.7, 112.7), [10, 30, 50, 70])
vmarks(ax)
hline(ax, 87.4, RED, 1.2)
hline(ax, 70, '#222222', 0.9)
hline(ax, 50, '#666666', 0.9, DASHDOT)
hline(ax, 30, '#222222', 0.9)
hline(ax, 26.7, GREEN, 1.2)
t, v = arr(rsi14)
ax.fill_between(t, v, 70, where=v > 70, interpolate=True, color=FILL_G, lw=0, zorder=3)
ax.fill_between(t, v, 30, where=v < 30, interpolate=True, color=FILL_O, lw=0, zorder=3)
ax.plot(t, v, color='#222222', lw=0.8, zorder=4)
trends(ax, rsi14_red, RED)
trends(ax, rsi14_green, '#1d6e1d')
legend(ax, [(19, '\u25b2', '#3d7f3d'), (27, 'RSI(14) 60.75', '#444444')])
vbox(ax, 60.75, '60.75')

# ---------------- MACD ----------------
ax = panel(308, 452)
style(ax, (-21.4, 18.6), [-20, -15, -10, -5, 0, 5, 10, 15], hidden=(0, 5))
vmarks(ax)
hline(ax, -3.2, GREEN, 1.2)
t, v = arr(macd_hist)
ax.fill_between(t, v, 0, where=v > 0, interpolate=True, color='#4a8a4a', lw=0, zorder=3)
ax.fill_between(t, v, 0, where=v < 0, interpolate=True, color='#c07040', lw=0, zorder=3)
t, v = arr(macd_signal)
ax.plot(t, v, color='#f0952f', lw=0.9, zorder=4)
t, v = arr(macd)
ax.plot(t, v, color='#111111', lw=1.0, zorder=5)
trends(ax, macd_red, RED)
trends(ax, macd_green, '#1d6e1d')
legend(ax, [(19, '\u2014', '#111111'), (27, 'MACD(12,26,9) 4.463,', '#444444'),
            (124, '3.698,', '#f0952f'), (150, '0.766', '#4d8c4d')])
vbox(ax, 4.463, '4.463')
vbox(ax, 0.766, '0.766', ec='#4d8c4d')

# ---------------- Price ----------------
ax = panel(452, 858, z=5)
style(ax, (1824.7, 2130.3), list(range(1830, 2121, 10)), hidden=(2090, 2100, 2110))
vmarks(ax)
for lo, hi in yellow_bands:
    ax.fill_between([-2.83, 129.9], lo, hi, color='#ffee00', lw=0, zorder=2, clip_on=False)
for y in green_levels:
    hline(ax, y, '#1f7a1f', 1.3)
ax.plot([-1.03, 65.2], [2064.5, 2064.5], color=RED, lw=1.2, zorder=2)
for y, s in zip(fib_levels, fib_text):
    ax.plot([-1.03, 124.2], [y, y], color='#9a9a9a', lw=1.0, zorder=2, clip_on=False)
    ax.text(123.0, y + 2.5, s, ha='right', va='bottom', fontsize=6, color='#999999', zorder=3,
            clip_on=False)
ax.fill_between(bb_t, bb_lower, bb_upper, color='#f3e4c6', alpha=0.55, lw=0, zorder=3)
ax.plot(bb_t, bb_upper, color='#ecd3a6', lw=0.5, zorder=3)
ax.plot(bb_t, bb_lower, color='#ecd3a6', lw=0.5, zorder=3)
for (x0, y0), (x1, y1), c, lw, ls in price_lines:
    ax.plot([x0, x1], [y0, y1], color=c, lw=lw, ls=ls, zorder=4, clip_on=False,
            solid_capstyle='butt')
pt, pv = arr(price)
up = np.diff(pv) >= 0
ax.vlines(pt[1:], pv[:-1], pv[1:], colors=np.where(up, '#111111', '#ee1111'), lw=1.5, zorder=5)
ax.plot(pt, pv, color='#333333', lw=0.5, zorder=5)
t, v = arr(ema34)
ax.plot(t, v, color='#1c1c6e', lw=1.3, zorder=6)
t, v = arr(ema13)
ax.plot(t, v, color='#ff33dd', lw=1.3, zorder=6)
for x, y, s in peak_labels:
    ax.text(x, y, s, ha='center', va='center', fontsize=5.5, color='#333333', zorder=8,
            bbox=dict(boxstyle='square,pad=0.12', fc='#ececec', ec='#aaaaaa', lw=0.5))
ax.annotate('', xy=(122.0, 1992), xytext=(122.0, 1979),
            arrowprops=dict(arrowstyle='simple,head_width=1.1,head_length=0.7,tail_width=0.5',
                            color='#0a5c0a', lw=0), zorder=8)
legend(ax, [(19, '\u25aa', '#222222'), (27, '$SPX (60 min) 2106.63', '#333333')], 4)
legend(ax, [(19, '\u2014', '#ff33dd'), (27, 'EMA(13) 2102.66', '#ff33dd')], 13)
legend(ax, [(19, '\u2014', '#1c1c6e'), (27, 'EMA(34) 2097.45', '#1c1c6e')], 21.5)
legend(ax, [(19, '\u25b2', '#e0b060'), (27, 'BB(20,2.0) 2086.50 - 2100.23 - 2113.97', '#d9a640')], 30)
vbox(ax, 2113.97, '2113.97', ec='#e0b060')
vbox(ax, 2106.63, '2106.63', ec='#222222')
vbox(ax, 2097.45, '2097.45', ec='#1c1c6e')
vbox(ax, 2086.50, '2086.50', ec='#e0b060')
ax.set_xticklabels(tick_lbl)
ax.tick_params(axis='x', labelsize=6.5, pad=2, labelcolor='#333333')
for lab in ax.get_xticklabels():
    if lab.get_text() in bold_lbl:
        lab.set_fontweight('bold')

# ---------------- Slow STO ----------------
ax = panel(871, 1014)
style(ax, (-4, 104), [20, 50, 80])
vmarks(ax)
hline(ax, 80, '#333333', 0.9)
hline(ax, 50, '#666666', 0.9, DASHDOT)
hline(ax, 20, '#333333', 0.9)
t, v = arr(sto)
ax.plot(t, v, color='#f0952f', lw=2.0, zorder=4)
ax.plot(t, v, color='#111111', lw=0.9, zorder=5)
trends(ax, sto_red, RED)
trends(ax, sto_green, '#1d6e1d')
legend(ax, [(19, '\u2014', '#111111'), (27, 'Slow STO %K(14) %D(3) 90.90,', '#444444'),
            (167, '92.67', '#f0952f')])
vbox(ax, 90.9, '90.90')

# ---------------- ROC ----------------
ax = panel(1014, 1156)
style(ax, (-3.36, 4.18), [-3, -2, -1, 0, 1, 2, 3, 4], hidden=(1,))
vmarks(ax)
hline(ax, 2.9, RED, 1.2)
hline(ax, 0, '#666666', 0.9, DASHDOT)
hline(ax, -2.4, GREEN, 1.2)
t, v = arr(roc)
ax.plot(t, v, color='#111111', lw=0.9, zorder=4)
trends(ax, roc_red, RED)
trends(ax, roc_green, '#1d6e1d')
legend(ax, [(19, '\u2014', '#111111'), (27, 'ROC(12) 0.91%', '#444444')])
vbox(ax, 0.91, '0.91')

# ---------------- MFI ----------------
ax = panel(1156, 1299)
style(ax, (-3.5, 105), [20, 50, 80], hidden=(50,))
vmarks(ax)
hline(ax, 84.6, RED, 1.2)
hline(ax, 80, '#999999', 0.9)
hline(ax, 20, '#999999', 0.9)
hline(ax, 24.6, GREEN, 1.2)
t, v = arr(mfi)
ax.fill_between(t, v, 80, where=v > 80, interpolate=True, color=FILL_G, lw=0, zorder=3)
ax.fill_between(t, v, 20, where=v < 20, interpolate=True, color=FILL_O, lw=0, zorder=3)
ax.plot(t, v, color='#333333', lw=0.8, zorder=4)
trends(ax, mfi_red, RED)
trends(ax, mfi_green, '#1d6e1d')
legend(ax, [(19, '\u2014', '#111111'), (27, 'MFI(14) 54.36', '#444444')])
vbox(ax, 54.36, '54.36')

# ---------------- CCI ----------------
ax = panel(1299, 1442)
style(ax, (-445, 381), [-300, -200, -100, 0, 100, 200, 300], hidden=(100,))
vmarks(ax)
hline(ax, 179, RED, 1.2)
hline(ax, 100, '#999999', 0.9)
hline(ax, 0, '#666666', 0.9, DASHDOT)
hline(ax, -100, '#999999', 0.9)
hline(ax, -214, GREEN, 1.2)
t, v = arr(cci)
ax.fill_between(t, v, 100, where=v > 100, interpolate=True, color=FILL_G, lw=0, zorder=3)
ax.fill_between(t, v, -100, where=v < -100, interpolate=True, color=FILL_O, lw=0, zorder=3)
ax.plot(t, v, color='#333333', lw=0.8, zorder=4)
trends(ax, cci_red, RED)
trends(ax, cci_green, '#1d6e1d')
legend(ax, [(19, '\u25b2', '#3d7f3d'), (27, 'CCI(20) 84.25', '#444444')])
vbox(ax, 84.25, '84.25')

# ---------------- ADX ----------------
ax = panel(1442, 1584)
style(ax, (7.8, 57.4), list(range(10, 56, 5)), hidden=(20,))
vmarks(ax)
hline(ax, 43.4, RED, 1.2)
hline(ax, 20, GREEN, 1.6)
t, v = arr(adx)
ax.plot(t, v, color='#111111', lw=0.9, zorder=4)
trends(ax, adx_red, RED)
trends(ax, adx_green, '#1d6e1d')
legend(ax, [(19, '\u2014', '#111111'), (27, 'ADX(14) 18.91', '#444444')])
vbox(ax, 18.91, '18.91')
ax.set_xticklabels(tick_lbl)
ax.tick_params(axis='x', labelsize=6.5, pad=2, labelcolor='#333333')
for lab in ax.get_xticklabels():
    if lab.get_text() in bold_lbl:
        lab.set_fontweight('bold')

# ---------------- header ----------------
def ftext(x_px, y_px, s, **kw):
    fig.text(x_px / W_PX, 1 - y_px / H_PX, s, va='center', ha='left', **kw)


ftext(12, 7, '$SPX', fontsize=7.5, fontweight='bold', color='#222222')
ftext(41, 7, 'S&P 500 Large Cap Index', fontsize=5.9, color='#444444')
ftext(141, 7, 'INDX', fontsize=5.6, color='#888888')
ftext(13, 17, '15-Apr-2015', fontsize=6, color='#555555')
ftext(853, 7, '\u00a9 StockCharts.com', fontsize=6, color='#666666')
for x, s, w in [(539, 'Open', 'bold'), (564, '2097.82', 'normal'), (599, 'High', 'bold'),
                (620, '2111.91', 'normal'), (654, 'Low', 'bold'), (675, '2097.82', 'normal'),
                (709, 'Close', 'bold'), (737, '2106.63', 'normal'), (771, 'Volume', 'bold'),
                (804, '22.1M', 'normal'), (834, 'Chg', 'bold'), (853, '+10.79 (+0.51%)', 'normal')]:
    ftext(x, 17, s, fontsize=6.3, fontweight=w, color='#222222' if w == 'bold' else '#555555')
ftext(916, 17, '\u25b2', fontsize=5, color='#2e8b2e')

fig.savefig('out.png', dpi=100, facecolor=BG)
